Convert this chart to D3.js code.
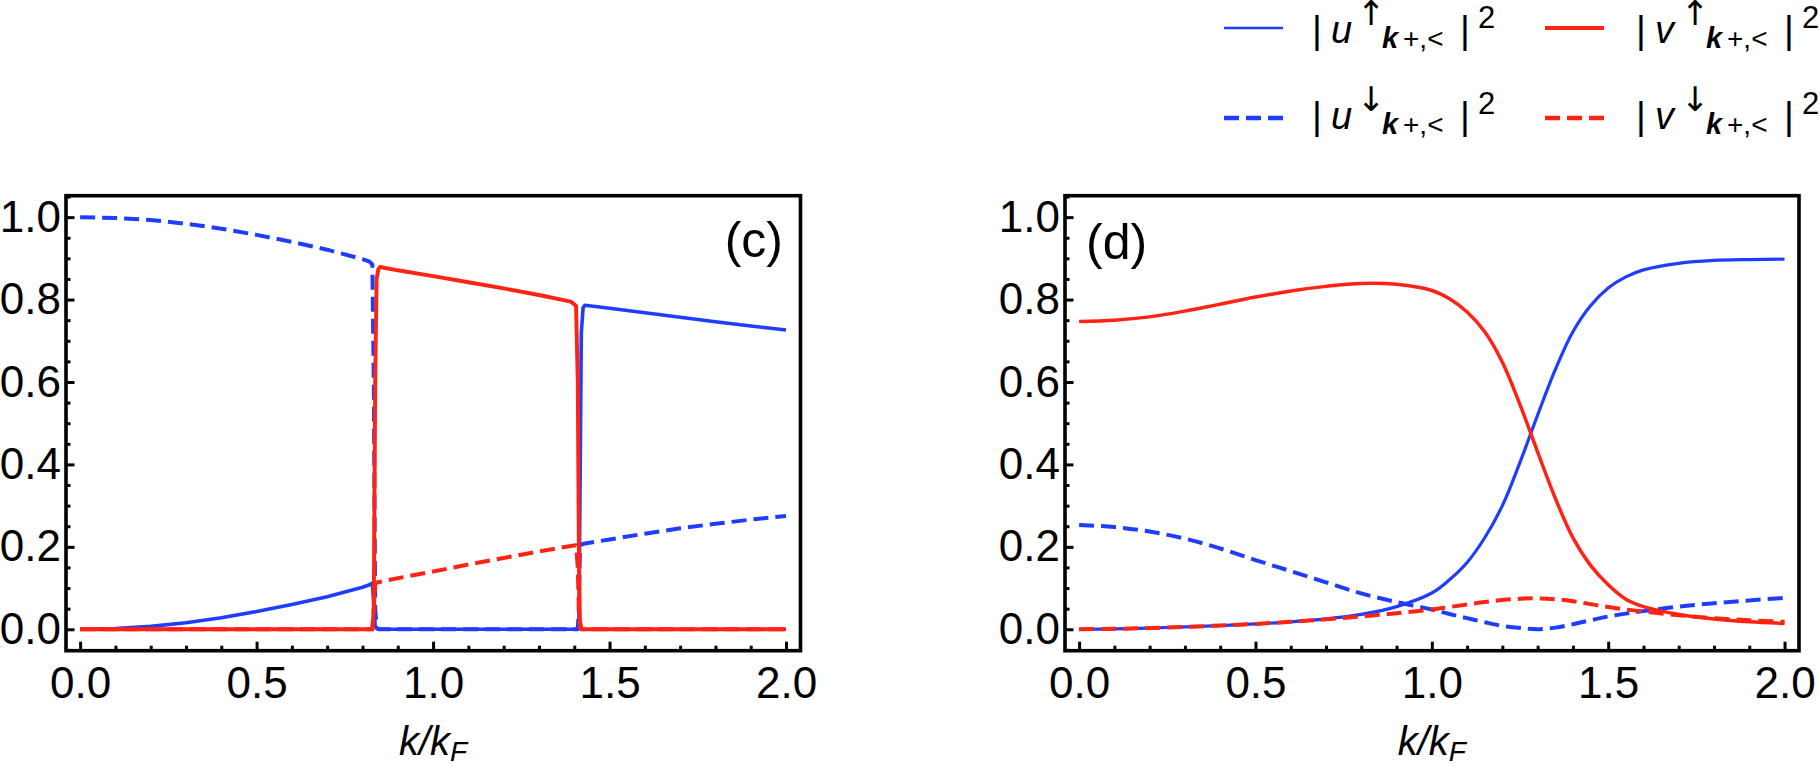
<!DOCTYPE html>
<html><head><meta charset="utf-8">
<script src="https://cdn.jsdelivr.net/npm/d3@7"></script>
<style>
html,body{margin:0;padding:0;background:#fff;}
svg{display:block;font-family:'Liberation Sans',Arial,sans-serif;}
</style></head>
<body>
<script>
// ---------- DATA ----------
// panel (c)
const kC    = [0,0.1,0.2,0.3,0.4,0.5,0.6,0.7,0.8,0.82,0.828,0.832,0.836,0.84,0.845,0.85,0.9,1.0,1.1,1.2,1.3,1.39,1.405,1.41,1.413,1.416,1.42,1.425,1.43,1.5,1.6,1.7,1.8,1.9,2.0];
const uUpC  = [0,0.002,0.007,0.016,0.028,0.043,0.06,0.079,0.102,0.108,0.112,0.06,0.008,0.002,0,0,0,0,0,0,0,0,0,0.002,0.01,0.3,0.72,0.78,0.786,0.779,0.768,0.757,0.746,0.736,0.726];
const uDnC  = [1.0,0.998,0.993,0.984,0.972,0.957,0.94,0.921,0.898,0.892,0.885,0.6,0.05,0.005,0,0,0,0,0,0,0,0,0,0,0.05,0.2,0.206,0.207,0.208,0.218,0.232,0.245,0.256,0.266,0.275];
const vUpC  = [0,0,0,0,0,0,0,0,0,0,0,0.05,0.6,0.85,0.874,0.879,0.871,0.857,0.842,0.827,0.811,0.795,0.785,0.6,0.2,0.02,0.003,0,0,0,0,0,0,0,0];
const vDnC  = [0,0,0,0,0,0,0,0,0,0,0,0.05,0.11,0.113,0.114,0.115,0.124,0.14,0.157,0.173,0.189,0.202,0.204,0.15,0.05,0.005,0,0,0,0,0,0,0,0,0];
// panel (d)
const kD    = [0,0.1,0.2,0.3,0.4,0.5,0.6,0.7,0.8,0.9,1.0,1.05,1.1,1.15,1.2,1.25,1.3,1.35,1.4,1.45,1.5,1.55,1.6,1.7,1.8,1.9,2.0];
const uUpD  = [0,0.001,0.003,0.006,0.009,0.013,0.018,0.025,0.036,0.055,0.088,0.12,0.162,0.222,0.3,0.405,0.52,0.63,0.722,0.785,0.828,0.855,0.872,0.888,0.895,0.897,0.898];
const uDnD  = [0.253,0.248,0.237,0.22,0.196,0.168,0.141,0.114,0.087,0.066,0.048,0.037,0.027,0.017,0.008,0.003,0.0,0.004,0.012,0.022,0.031,0.038,0.044,0.055,0.063,0.07,0.076];
const vUpD  = [0.747,0.75,0.758,0.772,0.789,0.806,0.821,0.832,0.839,0.837,0.822,0.802,0.77,0.722,0.648,0.545,0.43,0.318,0.222,0.155,0.108,0.073,0.055,0.036,0.025,0.018,0.014];
const vDnD  = [0,0.001,0.003,0.006,0.009,0.013,0.018,0.024,0.031,0.039,0.048,0.054,0.06,0.066,0.071,0.074,0.075,0.073,0.068,0.061,0.054,0.048,0.043,0.034,0.027,0.022,0.018];
// ticks
const xTicks = [0,0.5,1.0,1.5,2.0];
const xTickLabels = ["0.0","0.5","1.0","1.5","2.0"];
const xMinor = [0.1,0.2,0.3,0.4,0.6,0.7,0.8,0.9,1.1,1.2,1.3,1.4,1.6,1.7,1.8,1.9];
const yTicks = [0,0.2,0.4,0.6,0.8,1.0];
const yTickLabels = ["0.0","0.2","0.4","0.6","0.8","1.0"];
const yMinor = [-0.05,0.05,0.1,0.15,0.25,0.3,0.35,0.45,0.5,0.55,0.65,0.7,0.75,0.85,0.9,0.95,1.05];
const panelLabels = ["(c)","(d)"];
const legendBase = ["u","u","v","v"];
const legendArrow = ["\u2191","\u2193","\u2191","\u2193"];

// ---------- STYLE ----------
const BLUE = "#1f3dff", RED = "#ff2314";
const W = 1819, H = 767;
const svg = d3.select("body").append("svg").attr("width", W).attr("height", H);
svg.append("rect").attr("width", W).attr("height", H).attr("fill", "#fff");

const yTop = 195.7, yBot = 650.7;
const y = d3.scaleLinear().domain([-0.052, 1.052]).range([yBot, yTop]);

function drawPanel(idx, x0, x1, ks, sets, curve, solidW) {
  const x = d3.scaleLinear().domain([-0.040, 2.041]).range([x0, x1]);
  const g = svg.append("g");
  const clipId = "clip" + idx;
  g.append("clipPath").attr("id", clipId).append("rect")
    .attr("x", x0).attr("y", yTop).attr("width", x1 - x0).attr("height", yBot - yTop);
  const lg = g.append("g").attr("clip-path", `url(#${clipId})`);
  const styles = [
    {c: BLUE, dash: null, w: solidW},
    {c: BLUE, dash: "15,7", w: 4},
    {c: RED,  dash: null, w: solidW + 0.3},
    {c: RED,  dash: "15,7", w: 4}
  ];
  sets.forEach((vals, i) => {
    const line = d3.line().x((d, j) => x(ks[j])).y(d => y(d)).curve(curve);
    lg.append("path").attr("d", line(vals)).attr("fill", "none")
      .attr("stroke", styles[i].c).attr("stroke-width", styles[i].w)
      .attr("stroke-dasharray", styles[i].dash).attr("stroke-linejoin", "round");
  });
  // axes
  const ax = g.append("g").attr("transform", `translate(0,${yBot})`)
    .call(d3.axisBottom(x).tickValues(xTicks).tickSize(-9).tickPadding(16)
      .tickFormat((d, i) => xTickLabels[i]));
  const axm = g.append("g").attr("transform", `translate(0,${yBot})`)
    .call(d3.axisBottom(x).tickValues(xMinor).tickSize(-5).tickFormat(""));
  const ay = g.append("g").attr("transform", `translate(${x0},0)`)
    .call(d3.axisLeft(y).tickValues(yTicks).tickSize(-8.5).tickPadding(5)
      .tickFormat((d, i) => yTickLabels[i]));
  const aym = g.append("g").attr("transform", `translate(${x0},0)`)
    .call(d3.axisLeft(y).tickValues(yMinor).tickSize(-4.5).tickFormat(""));
  [ax, axm, ay, aym].forEach(a => {
    a.select(".domain").remove();
    a.selectAll(".tick line").attr("stroke", "#000").attr("stroke-width", 3);
    a.selectAll(".tick text").attr("fill", "#000").attr("font-size", 44)
      .attr("font-family", "'Liberation Sans',Arial,sans-serif");
  });
  // frame
  g.append("rect").attr("x", x0).attr("y", yTop).attr("width", x1 - x0).attr("height", yBot - yTop)
    .attr("fill", "none").attr("stroke", "#000").attr("stroke-width", 3.6);
  // axis title
  const t = g.append("text").attr("x", x(1.0)).attr("y", 755).attr("text-anchor", "middle")
    .attr("font-size", 40).attr("font-style", "italic");
  t.append("tspan").text("k/k");
  t.append("tspan").attr("font-size", 28).attr("dy", 6).text("F");
  return x;
}

drawPanel(0, 66, 800.5, kC, [uUpC, uDnC, vUpC, vDnC], d3.curveLinear, 3.6);
drawPanel(1, 1065, 1799, kD, [uUpD, uDnD, vUpD, vDnD], d3.curveCatmullRom.alpha(0.5), 3.2);

// panel labels
svg.append("text").attr("x", 783).attr("y", 257).attr("text-anchor", "end")
  .attr("font-size", 50).text(panelLabels[0]);
svg.append("text").attr("x", 1086).attr("y", 259).attr("text-anchor", "start")
  .attr("font-size", 50).text(panelLabels[1]);

// ---------- LEGEND ----------
const legCols = [{lx: 1224, tx: 1312}, {lx: 1545, tx: 1636}];
const legRows = [{ly: 28, ty: 43}, {ly: 118, ty: 129}];
const legStyles = [
  {c: BLUE, dash: null, w: 2.6},
  {c: BLUE, dash: "15,7", w: 4.5},
  {c: RED,  dash: null, w: 4},
  {c: RED,  dash: "15,7", w: 4.5}
];
// order: uUp (col0,row0), uDn (col0,row1), vUp (col1,row0), vDn (col1,row1)
[[0,0],[0,1],[1,0],[1,1]].forEach(([ci, ri], i) => {
  const col = legCols[ci], row = legRows[ri], st = legStyles[i];
  const g = svg.append("g");
  g.append("line").attr("x1", col.lx).attr("x2", col.lx + 59).attr("y1", row.ly).attr("y2", row.ly)
    .attr("stroke", st.c).attr("stroke-width", st.w).attr("stroke-dasharray", st.dash);
  const b = row.ty, tx = col.tx;
  g.append("text").attr("x", tx).attr("y", b).attr("font-size", 38).text("|");
  g.append("text").attr("x", tx + 19).attr("y", b).attr("font-size", 38).attr("font-style", "italic").text(legendBase[i]);
  g.append("text").attr("x", tx + 59).attr("y", b - 18).attr("font-size", 34)
    .attr("text-anchor", "middle").attr("font-family", "'DejaVu Sans',sans-serif").text(legendArrow[i]);
  g.append("text").attr("x", tx + 70).attr("y", b + 5).attr("font-size", 29)
    .attr("font-style", "italic").attr("font-weight", "bold").text("k");
  g.append("text").attr("x", tx + 91).attr("y", b + 5).attr("font-size", 28).text("+,<");
  g.append("text").attr("x", tx + 148).attr("y", b).attr("font-size", 38).text("|");
  g.append("text").attr("x", tx + 166).attr("y", b - 15).attr("font-size", 31).text("2");
});
</script>
</body></html>
